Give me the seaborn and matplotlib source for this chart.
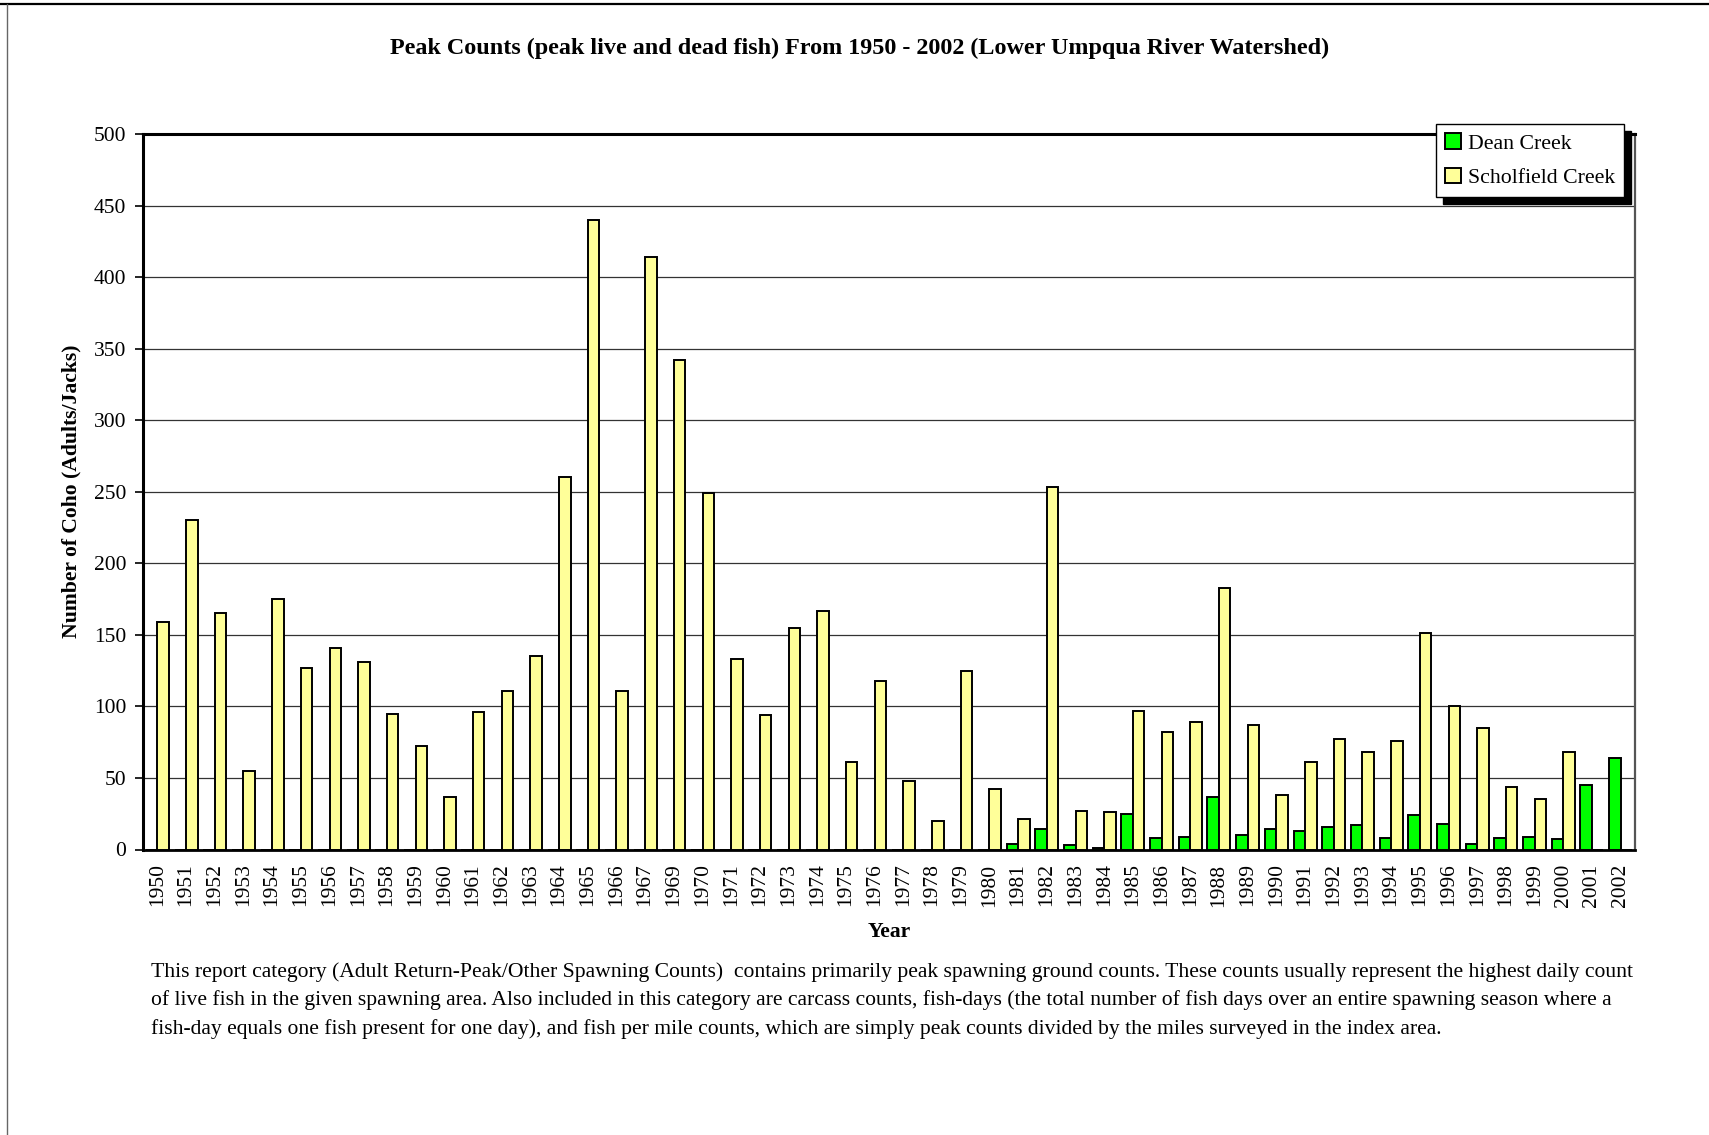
import matplotlib
matplotlib.use("Agg")
import matplotlib.pyplot as plt
from matplotlib.lines import Line2D
import seaborn as sns
import pandas as pd

years = ["1950", "1951", "1952", "1953", "1954", "1955", "1956", "1957", "1958", "1959",
         "1960", "1961", "1962", "1963", "1964", "1965", "1966", "1967", "1969", "1970",
         "1971", "1972", "1973", "1974", "1975", "1976", "1977", "1978", "1979", "1980",
         "1981", "1982", "1983", "1984", "1985", "1986", "1987", "1988", "1989", "1990",
         "1991", "1992", "1993", "1994", "1995", "1996", "1997", "1998", "1999", "2000",
         "2001", "2002"]

dean_creek = [0, 0, 0, 0, 0, 0, 0, 0, 0, 0,
              0, 0, 0, 0, 0, 0, 0, 0, 0, 0,
              0, 0, 0, 0, 0, 0, 0, 0, 0, 0,
              4, 14, 3, 1, 25, 8, 9, 37, 10, 14,
              13, 16, 17, 8, 24, 18, 4, 8, 9, 7,
              45, 64]

scholfield_creek = [159, 230, 165, 55, 175, 127, 141, 131, 95, 72,
                    37, 96, 111, 135, 260, 440, 111, 414, 342, 249,
                    133, 94, 155, 167, 61, 118, 48, 20, 125, 42,
                    21, 253, 27, 26, 97, 82, 89, 183, 87, 38,
                    61, 77, 68, 76, 151, 100, 85, 44, 35, 68,
                    0, 0]

series_names = ["Dean Creek", "Scholfield Creek"]
series_colors = ["#00FF00", "#FFFF99"]
yticks = [0, 50, 100, 150, 200, 250, 300, 350, 400, 450, 500]

title = "Peak Counts (peak live and dead fish) From 1950 - 2002 (Lower Umpqua River Watershed)"
xlabel = "Year"
ylabel = "Number of Coho (Adults/Jacks)"
note_lines = [
    "This report category (Adult Return-Peak/Other Spawning Counts)  contains primarily peak spawning ground counts. These counts usually represent the highest daily count",
    "of live fish in the given spawning area. Also included in this category are carcass counts, fish-days (the total number of fish days over an entire spawning season where a",
    "fish-day equals one fish present for one day), and fish per mile counts, which are simply peak counts divided by the miles surveyed in the index area.",
]

df = pd.DataFrame({
    "Year": years * 2,
    "Creek": [series_names[0]] * len(years) + [series_names[1]] * len(years),
    "Count": dean_creek + scholfield_creek,
})

sns.set_theme(style="white")
plt.rcParams["font.family"] = ["Liberation Serif", "DejaVu Serif"]
plt.rcParams["text.color"] = "black"
plt.rcParams["axes.labelcolor"] = "black"
plt.rcParams["xtick.color"] = "black"
plt.rcParams["ytick.color"] = "black"

W, H = 1709, 1135
fig = plt.figure(figsize=(W / 100, H / 100), dpi=100)
ax = fig.add_axes([143 / W, 1 - 849.5 / H, (1635 - 143) / W, (849.5 - 134) / H])

sns.barplot(data=df, x="Year", y="Count", hue="Creek", order=years,
            hue_order=series_names, palette=series_colors, width=0.8,
            edgecolor="black", linewidth=1.4, errorbar=None, ax=ax,
            saturation=1, zorder=3)

ax.set_xlim(-0.5, len(years) - 0.5)
ax.set_ylim(0, 500)
ax.set_yticks(yticks)
ax.set_yticklabels([str(v) for v in yticks], fontsize=15.5, color="black")
ax.yaxis.grid(True, color="#333333", linewidth=0.9, zorder=0)
ax.set_axisbelow(True)

ax.set_xticks(range(len(years)))
ax.set_xticklabels(years, rotation=90, fontsize=15.5, color="black")
ax.set_xticks([i - 0.5 for i in range(len(years) + 1)], minor=True)
ax.tick_params(axis="x", which="major", length=0, pad=10, colors="black")
ax.tick_params(axis="x", which="minor", length=6, width=1.2, color="black", direction="out")
ax.tick_params(axis="y", which="major", length=6, width=1.2, color="black", direction="out",
               pad=6, left=True, labelcolor="black")

ax.set_xlabel("")
ax.set_ylabel("")

for side, lw, col in [("left", 2.2, "black"), ("top", 2.2, "black"),
                      ("right", 1.6, "#555555"), ("bottom", 2.0, "black")]:
    ax.spines[side].set_visible(True)
    ax.spines[side].set_linewidth(lw)
    ax.spines[side].set_color(col)

handles, labels = ax.get_legend_handles_labels()
if ax.get_legend() is not None:
    ax.get_legend().remove()
leg = fig.legend(handles, labels, loc="upper right",
                 bbox_to_anchor=(1624 / W, 1 - 124 / H), frameon=True,
                 fancybox=False, shadow={"color": "black", "alpha": 1.0, "ox": 5, "oy": -5},
                 fontsize=15.7, handlelength=0.72, handleheight=0.72,
                 handletextpad=0.3, borderpad=0.42, labelspacing=0.66,
                 borderaxespad=0)
leg.get_frame().set_edgecolor("black")
leg.get_frame().set_linewidth(1.0)
for t in leg.get_texts():
    t.set_color("black")

fig.text(860 / W, 1 - 48 / H, title, ha="center", va="center", fontsize=17.4,
         fontweight="bold", color="black")
fig.text((143 + 1635) / 2 / W, 1 - 932 / H, xlabel, ha="center", va="center",
         fontsize=15.6, fontweight="bold", color="black")
fig.text(71 / W, 1 - 491 / H, ylabel, ha="center", va="center", rotation=90,
         fontsize=15.6, fontweight="bold", color="black")

for i, line in enumerate(note_lines):
    fig.text(151 / W, 1 - (972 + 28.5 * i) / H, line, ha="left", va="center",
             fontsize=15.6, color="black")

fig.add_artist(Line2D([0, 1], [1 - 3.5 / H, 1 - 3.5 / H], transform=fig.transFigure,
                      color="black", linewidth=1.6))
fig.add_artist(Line2D([7.5 / W, 7.5 / W], [0, 1 - 3.5 / H], transform=fig.transFigure,
                      color="#666666", linewidth=1.0))

fig.savefig("out.png", dpi=100)
